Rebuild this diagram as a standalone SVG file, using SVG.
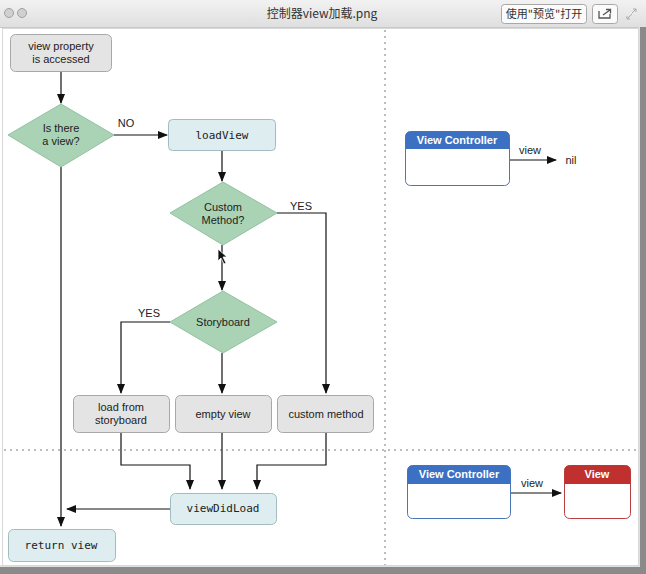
<svg xmlns="http://www.w3.org/2000/svg" width="646" height="574" viewBox="0 0 646 574">
<defs>
<linearGradient id="tb" x1="0" y1="0" x2="0" y2="1"><stop offset="0" stop-color="#f2f2f2"/><stop offset="1" stop-color="#dedede"/></linearGradient>
<marker id="ah" markerWidth="10" markerHeight="8" refX="9" refY="4" orient="auto" markerUnits="userSpaceOnUse"><path d="M0,0 L10,4 L0,8 Z" fill="#111"/></marker>
</defs>
<style>
.t{font-family:"Liberation Sans",Arial,sans-serif;font-size:11px;fill:#222;text-anchor:middle}
.m{font-family:"DejaVu Sans Mono","Liberation Mono",monospace;font-size:11px;fill:#222;text-anchor:middle}
.g{fill:#e4e4e4;stroke:#a8a8a8;stroke-width:1}
.b{fill:#deedf0;stroke:#a3bcc2;stroke-width:1}
.d{fill:#a9d3b4;stroke:#93c2a0;stroke-width:1}
.c{fill:none;stroke:#111;stroke-width:1.2}
.a{marker-end:url(#ah)}
.h{font-family:"Liberation Sans",Arial,sans-serif;font-size:11px;font-weight:bold;fill:#fff;text-anchor:middle}
.dot{stroke:#bdbdbd;stroke-width:2;stroke-dasharray:2 4;fill:none}
</style>
<rect width="646" height="574" fill="#ffffff"/>
<g id="window">
<rect x="0" y="0" width="646" height="28" fill="url(#tb)"/>
<line x1="0" y1="27.5" x2="646" y2="27.5" stroke="#c8c8c8"/>
<circle cx="9" cy="13" r="4.5" fill="#d0d0d0" stroke="#a0a0a0"/>
<circle cx="22" cy="13" r="4.5" fill="#d0d0d0" stroke="#a0a0a0"/>
<text x="322" y="18" style="font-family:'Noto Sans CJK SC','Liberation Sans',sans-serif;font-size:12px;fill:#333;text-anchor:middle">控制器view加载.png</text>
<rect x="501.5" y="4.5" width="85" height="19" rx="3" fill="#fbfbfb" stroke="#a8a8a8"/>
<text x="544" y="18" style="font-family:'Noto Sans CJK SC','Liberation Sans',sans-serif;font-size:11px;fill:#333;text-anchor:middle">使用"预览"打开</text>
<rect x="592.5" y="4.5" width="25" height="19" rx="3" fill="#fbfbfb" stroke="#a8a8a8"/>
<path d="M599,11 v7 h11 v-4" fill="none" stroke="#555" stroke-width="1.3"/>
<path d="M603,15 l7,-5 M606,9.5 h4.5 v4" fill="none" stroke="#555" stroke-width="1.3"/>
<path d="M627,19 l5,-5 M636,9 l-4,4 M627,19 v-3 M627,19 h3 M636,9 v3 M636,9 h-3" fill="none" stroke="#aaa" stroke-width="1"/>
<rect x="638.5" y="27" width="2" height="541" fill="#e0e0e0"/>
<rect x="640" y="27" width="6" height="547" fill="#8a8a8a"/>
<rect x="0" y="566" width="646" height="8" fill="#8a8a8a"/>
<rect x="0" y="565" width="640" height="2" fill="#e0e0e0"/>
<rect x="2.5" y="28.5" width="636" height="537" fill="none" stroke="#d8d8d8"/>
</g>
<g id="grid">
<line class="dot" x1="385" y1="30" x2="385" y2="565"/>
<line class="dot" x1="4" y1="450" x2="638" y2="450"/>
</g>
<g id="connectors">
<line class="c a" x1="61" y1="71" x2="61" y2="103"/>
<line class="c a" x1="114" y1="135" x2="167" y2="135"/>
<line class="c a" x1="222" y1="150" x2="222" y2="181"/>
<line class="c a" x1="222" y1="245" x2="222" y2="290"/>
<polyline class="c a" points="277,213 326,213 326,393"/>
<polyline class="c a" points="170,322 121,322 121,393"/>
<line class="c a" x1="222" y1="353" x2="222" y2="393"/>
<polyline class="c a" points="121,432 121,465 190,465 190,489"/>
<line class="c a" x1="222" y1="432" x2="222" y2="489"/>
<polyline class="c a" points="326,432 326,465 257,465 257,489"/>
<line class="c a" x1="170" y1="509" x2="67" y2="509"/>
<line class="c a" x1="61" y1="167" x2="61" y2="526"/>
<line class="c a" x1="510" y1="160" x2="556" y2="160"/>
<line class="c a" x1="511" y1="493" x2="561" y2="493"/>
<text class="t" x="126" y="127">NO</text>
<text class="t" x="301" y="210">YES</text>
<text class="t" x="149" y="317">YES</text>
<text class="t" x="530" y="154">view</text>
<text class="t" x="532" y="487">view</text>
<text class="t" x="571" y="164">nil</text>
</g>
<g id="n_view_property"><rect class="g" x="10.5" y="34.5" width="101" height="37" rx="5"/><text class="t" x="61" y="50">view property</text><text class="t" x="61" y="63">is accessed</text></g>
<g id="n_is_there"><polygon class="d" points="61,104 114,135 61,167 8,135"/><text class="t" x="61" y="132">Is there</text><text class="t" x="61" y="145">a view?</text></g>
<g id="n_loadview"><rect class="b" x="168.5" y="119.5" width="107" height="31" rx="4"/><text class="m" x="222" y="139">loadView</text></g>
<g id="n_custom_q"><polygon class="d" points="223,182 277,213 223,245 170,213"/><text class="t" x="223" y="211">Custom</text><text class="t" x="223" y="224">Method?</text></g>
<g id="n_storyboard"><polygon class="d" points="223,291 277,322 223,353 170,322"/><text class="t" x="223" y="326">Storyboard</text></g>
<g id="n_load_sb"><rect class="g" x="73.5" y="395.5" width="96" height="37" rx="5"/><text class="t" x="121" y="411">load from</text><text class="t" x="121" y="424">storyboard</text></g>
<g id="n_empty"><rect class="g" x="175.5" y="395.5" width="96" height="37" rx="5"/><text class="t" x="223" y="418">empty view</text></g>
<g id="n_custom"><rect class="g" x="277.5" y="395.5" width="96" height="37" rx="5"/><text class="t" x="326" y="418">custom method</text></g>
<g id="n_viewdidload"><rect class="b" x="170.5" y="493.5" width="106" height="31" rx="5"/><text class="m" x="223" y="512">viewDidLoad</text></g>
<g id="n_return"><rect class="b" x="8.5" y="529.5" width="107" height="32" rx="5"/><text class="m" x="61" y="549">return view</text></g>
<g id="n_vc1"><rect x="405.5" y="131.5" width="104" height="54" rx="5" fill="#fff" stroke="#4a77b8"/><path d="M405.5,149 V136.5 a5,5 0 0 1 5,-5 H504.5 a5,5 0 0 1 5,5 V149 Z" fill="#3b70c2"/><text class="h" x="457" y="144">View Controller</text></g>
<g id="n_vc2"><rect x="407.5" y="465.5" width="103" height="53" rx="5" fill="#fff" stroke="#4a77b8"/><path d="M407.5,484 V470.5 a5,5 0 0 1 5,-5 H505.5 a5,5 0 0 1 5,5 V484 Z" fill="#3b70c2"/><text class="h" x="459" y="478">View Controller</text></g>
<g id="n_view"><rect x="564.5" y="465.5" width="66" height="53" rx="5" fill="#fff" stroke="#b84040"/><path d="M564.5,484 V470.5 a5,5 0 0 1 5,-5 H625.5 a5,5 0 0 1 5,5 V484 Z" fill="#c0302f"/><text class="h" x="597" y="478">View</text></g>
<g id="cursor"><path d="M218,249 L218,261 L221,258 L224,264 L226,263 L223,257 L227,257 Z" fill="#111" stroke="#fff" stroke-width="0.8"/></g>
</svg>
